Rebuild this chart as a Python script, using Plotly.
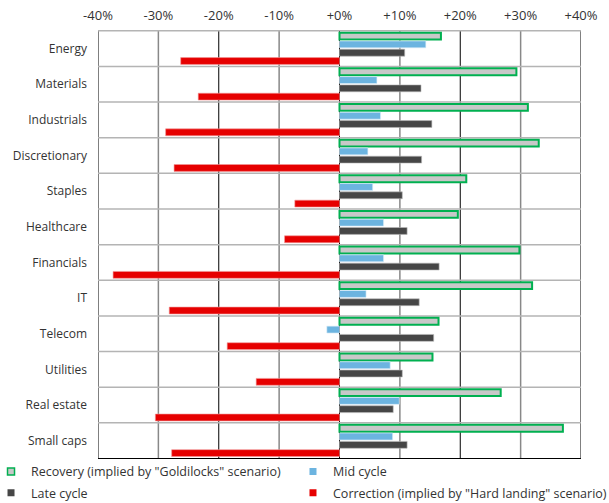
import plotly.graph_objects as go

categories = ["Energy", "Materials", "Industrials", "Discretionary", "Staples", "Healthcare",
              "Financials", "IT", "Telecom", "Utilities", "Real estate", "Small caps"]
recovery = [16.8, 29.3, 31.2, 33.0, 21.0, 19.6, 29.8, 31.9, 16.4, 15.4, 26.7, 37.0]
mid_cycle = [14.3, 6.2, 6.8, 4.7, 5.5, 7.3, 7.3, 4.4, -2.1, 8.4, 9.9, 8.8]
late_cycle = [10.8, 13.5, 15.3, 13.6, 10.4, 11.2, 16.5, 13.2, 15.6, 10.4, 8.9, 11.2]
correction = [-26.3, -23.4, -28.8, -27.4, -7.4, -9.1, -37.5, -28.2, -18.6, -13.8, -30.5, -27.8]

tick_vals = [-40, -30, -20, -10, 0, 10, 20, 30, 40]
tick_text = ["-40%", "-30%", "-20%", "-10%", "+0%", "+10%", "+20%", "+30%", "+40%"]

names = ['Recovery (implied by "Goldilocks" scenario)', "Mid cycle", "Late cycle",
         'Correction (implied by "Hard landing" scenario)']

FONT = "Open Sans"
TXT = "#333333"

fig = go.Figure()
fig.add_trace(go.Bar(y=categories, x=recovery, orientation="h", name=names[0], showlegend=False,
                     marker=dict(color="#C8C8C8", line=dict(color="#00B050", width=2))))
fig.add_trace(go.Bar(y=categories, x=mid_cycle, orientation="h", name=names[1], showlegend=False,
                     marker=dict(color="#6CB4E0", line=dict(color="#DDEEF8", width=0.6))))
fig.add_trace(go.Bar(y=categories, x=late_cycle, orientation="h", name=names[2], showlegend=False,
                     marker=dict(color="#464646", line=dict(color="#BBBBBB", width=0.6))))
fig.add_trace(go.Bar(y=categories, x=correction, orientation="h", name=names[3], showlegend=False,
                     marker=dict(color="#E60000", line=dict(color="#F29999", width=0.6))))

# legend-only marker traces
leg_styles = [
    (names[0], dict(color="#C8C8C8", line=dict(color="#00B050", width=1.5)), "legend"),
    (names[2], dict(color="#464646", line=dict(width=0)), "legend"),
    (names[1], dict(color="#6CB4E0", line=dict(width=0)), "legend2"),
    (names[3], dict(color="#E60000", line=dict(width=0)), "legend2"),
]
for k, (nm, mk, lg) in enumerate(leg_styles):
    fig.add_trace(go.Scatter(x=[None], y=[None], mode="markers", name=nm, legend=lg,
                             legendgroup="g%d" % k,
                             marker=dict(symbol="square", size=7, **mk), hoverinfo="skip"))

shapes = []
for v in tick_vals:
    major = (v % 20 == 0)
    shapes.append(dict(type="line", xref="x", yref="paper", x0=v, x1=v, y0=0, y1=1,
                       line=dict(color="#000000" if major else "#888888", width=1 if major else 1.5),
                       layer="below"))
for i in range(len(categories) + 1):
    yy = i - 0.5
    col = "#000000" if i == len(categories) else "#B4B4B4"
    shapes.append(dict(type="line", xref="paper", yref="y", x0=0, x1=1, y0=yy, y1=yy,
                       line=dict(color=col, width=1 if i == len(categories) else 1.5), layer="below"))

fig.update_layout(
    width=609, height=503,
    margin=dict(l=98, r=28, t=30, b=44, autoexpand=False),
    paper_bgcolor="white", plot_bgcolor="rgba(0,0,0,0)",
    barmode="group", bargap=0.07, bargroupgap=0.17,
    font=dict(family=FONT, size=12, color=TXT),
    shapes=shapes,
    xaxis=dict(side="top", range=[-40, 40], tickvals=tick_vals, ticktext=tick_text,
               showgrid=False, zeroline=False, showline=False, ticks="",
               ticklabelstandoff=6,
               tickfont=dict(size=13, color=TXT), fixedrange=True),
    yaxis=dict(autorange="reversed", showgrid=False, zeroline=False, showline=False,
               ticks="", ticklabelstandoff=10, tickfont=dict(size=12, color=TXT),
               range=[len(categories) - 0.5, -0.5], fixedrange=True),
    showlegend=True,
    legend=dict(x=-0.2215, xanchor="left", y=0.005, yanchor="top", orientation="v",
                font=dict(size=12.5, color=TXT), bgcolor="rgba(0,0,0,0)", itemwidth=30,
                tracegroupgap=2),
    legend2=dict(x=0.4037, xanchor="left", y=0.005, yanchor="top", orientation="v",
                 font=dict(size=12.5, color=TXT), bgcolor="rgba(0,0,0,0)", itemwidth=30,
                 tracegroupgap=2),
)

fig.write_html("out.html")
